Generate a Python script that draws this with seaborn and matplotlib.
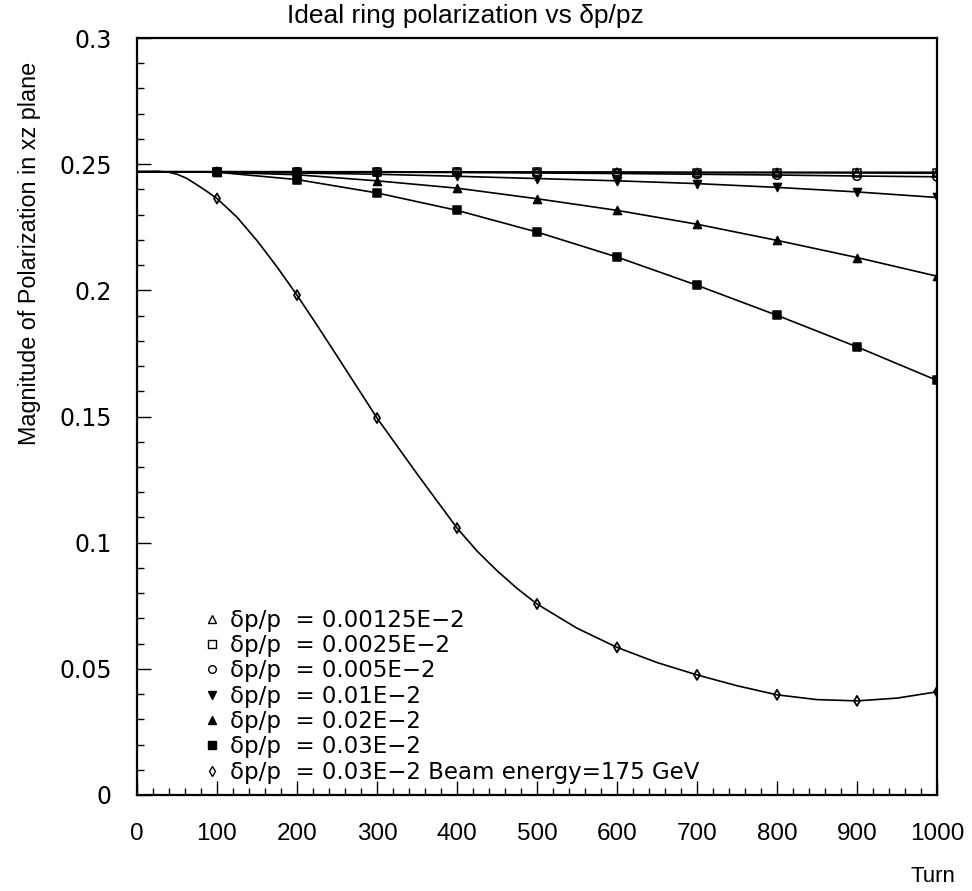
import numpy as np
import pandas as pd
import matplotlib
matplotlib.use("Agg")
import matplotlib.pyplot as plt
import seaborn as sns
from matplotlib.lines import Line2D
from matplotlib.ticker import MultipleLocator

# turns where markers are drawn (and line knots for the nearly straight series)
turns = [0, 100, 200, 300, 400, 500, 600, 700, 800, 900, 1000]

pol_000125 = [0.2470, 0.2470, 0.2470, 0.2470, 0.2469, 0.2469, 0.2469, 0.2468, 0.2468, 0.2468, 0.2468]
pol_00025 = [0.2470, 0.2470, 0.2470, 0.2469, 0.2469, 0.2468, 0.2467, 0.2466, 0.2466, 0.2465, 0.2464]
pol_0005 = [0.2470, 0.2470, 0.2469, 0.2468, 0.2467, 0.2465, 0.2463, 0.2460, 0.2457, 0.2453, 0.2450]
pol_001 = [0.2470, 0.2468, 0.2465, 0.2460, 0.2452, 0.2443, 0.2434, 0.2423, 0.2408, 0.2390, 0.2368]
pol_002 = [0.2470, 0.2468, 0.2458, 0.2434, 0.2405, 0.2363, 0.2317, 0.2262, 0.2198, 0.2130, 0.2056]
pol_003 = [0.2470, 0.2468, 0.2439, 0.2386, 0.2317, 0.2231, 0.2132, 0.2020, 0.1901, 0.1776, 0.1643]

turns_175 = [0, 25, 40, 50, 62, 75, 87, 100, 125, 150, 175, 200, 225, 250, 300, 350,
             400, 425, 450, 475, 500, 550, 600, 650, 700, 750, 800, 850, 900, 950, 1000]
pol_175 = [0.2470, 0.2472, 0.2468, 0.2460, 0.2444, 0.2418, 0.2393, 0.2364, 0.2290,
           0.2197, 0.2093, 0.1981, 0.1862, 0.1740, 0.1494, 0.1273, 0.1058, 0.0967,
           0.0889, 0.0819, 0.0757, 0.0661, 0.0585, 0.0525, 0.0476, 0.0433, 0.0397,
           0.0378, 0.0373, 0.0384, 0.0409]
marker_turns_175 = [100, 200, 300, 400, 500, 600, 700, 800, 900, 1000]
marker_pol_175 = [0.2364, 0.1981, 0.1494, 0.1058, 0.0757, 0.0585, 0.0476, 0.0397, 0.0373, 0.0409]

labels = [
    "δp/p  = 0.00125E\u22122",
    "δp/p  = 0.0025E\u22122",
    "δp/p  = 0.005E\u22122",
    "δp/p  = 0.01E\u22122",
    "δp/p  = 0.02E\u22122",
    "δp/p  = 0.03E\u22122",
    "δp/p  = 0.03E\u22122 Beam energy=175 GeV",
]

sns.set_theme(style="white")
plt.rcParams["font.family"] = ["DejaVu Sans"]
plt.rcParams["text.color"] = "black"
plt.rcParams["xtick.color"] = "black"
plt.rcParams["ytick.color"] = "black"

narrow = ["Liberation Sans", "DejaVu Sans"]

fig = plt.figure(figsize=(9.72, 8.91), dpi=100)
ax = fig.add_axes([137 / 972, 96 / 891, 800 / 972, 757 / 891])

# (values, marker, filled, size)
series = [
    (pol_000125, "^", False, 32),
    (pol_00025, "s", False, 32),
    (pol_0005, "o", False, 38),
    (pol_001, "v", True, 34),
    (pol_002, "^", True, 34),
    (pol_003, "s", True, 36),
]

for vals, m, filled, s in series:
    sns.lineplot(x=turns, y=vals, ax=ax, color="black", lw=1.2)
for vals, m, filled, s in series:
    sns.scatterplot(x=turns[1:], y=vals[1:], ax=ax, marker=m, s=s,
                    facecolor="black" if filled else "none",
                    edgecolor="black", linewidth=1.1, zorder=3)

sns.lineplot(x=turns_175, y=pol_175, ax=ax, color="black", lw=1.2)
sns.scatterplot(x=marker_turns_175, y=marker_pol_175, ax=ax, marker="d", s=26,
                facecolor="none", edgecolor="black", linewidth=1.3, zorder=3)

ax.set_xlim(0, 1000)
ax.set_ylim(0, 0.3)
ax.xaxis.set_major_locator(MultipleLocator(100))
ax.xaxis.set_minor_locator(MultipleLocator(20))
ax.yaxis.set_major_locator(MultipleLocator(0.05))
ax.yaxis.set_minor_locator(MultipleLocator(0.01))
ax.set_yticks([0, 0.05, 0.1, 0.15, 0.2, 0.25, 0.3])
ax.set_yticklabels(["0", "0.05", "0.1", "0.15", "0.2", "0.25", "0.3"])
ax.tick_params(which="both", direction="in", top=False, right=False,
               left=True, bottom=True, color="black", width=1.0)
ax.tick_params(which="major", length=10)
ax.tick_params(which="minor", length=5)
ax.tick_params(axis="x", which="major", pad=20)
ax.tick_params(axis="y", which="major", pad=18)
for t in ax.get_xticklabels():
    t.set_family(narrow)
    t.set_fontsize(17.5)
for t in ax.get_yticklabels():
    t.set_fontsize(17)
for sp in ax.spines.values():
    sp.set_color("black")
    sp.set_linewidth(1.6)
ax.set_xlabel("")
ax.set_ylabel("")
ax.grid(False)

fig.text(0.5 * (268 + 663) / 972, 1 - 16 / 891, "Ideal ring polarization vs δp/pz",
         ha="center", va="center", fontsize=19, family=narrow)
fig.text(30 / 972, 1 - 62 / 891, "Magnitude of Polarization in xz plane",
         rotation=90, ha="center", va="top", fontsize=16.8, family=narrow)
fig.text(955 / 972, 1 - 877 / 891, "Turn", ha="right", va="center", fontsize=16,
         family=narrow)

handle_specs = [("^", False), ("s", False), ("o", False), ("v", True),
                ("^", True), ("s", True), ("d", False)]
handles = [Line2D([], [], ls="none", marker=m, markersize=5.5,
                  markerfacecolor="black" if f else "none",
                  markeredgecolor="black", markeredgewidth=1.0)
           for m, f in handle_specs]
ax.legend(handles, labels, loc="lower left", bbox_to_anchor=(0.085, 0.015),
          frameon=False, fontsize=16.5, handlelength=0.6, handletextpad=0.5,
          labelspacing=0.1, borderpad=0, borderaxespad=0, labelcolor="black")

fig.savefig("out.png", dpi=100)
